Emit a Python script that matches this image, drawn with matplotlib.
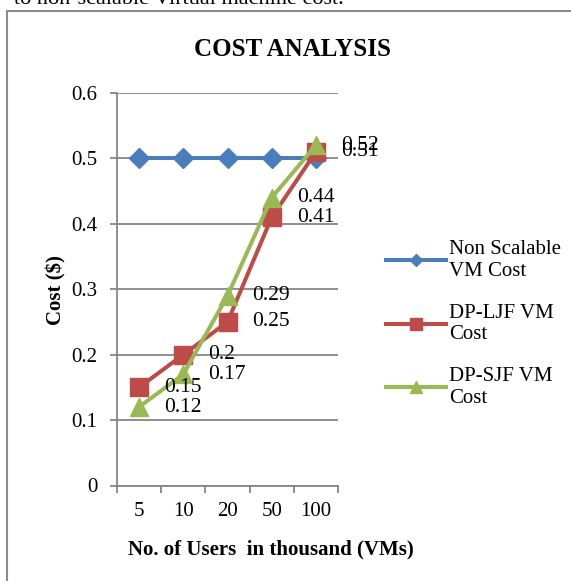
import matplotlib
matplotlib.use('Agg')
import matplotlib.pyplot as plt
from matplotlib.patches import Rectangle

plt.rcParams['font.family'] = ['Liberation Serif', 'DejaVu Serif']

users = ['5', '10', '20', '50', '100']
non_scalable = [0.5, 0.5, 0.5, 0.5, 0.5]
dp_ljf = [0.15, 0.2, 0.25, 0.41, 0.51]
dp_sjf = [0.12, 0.17, 0.29, 0.44, 0.52]

W, H = 571, 581
fig = plt.figure(figsize=(W / 100, H / 100), dpi=100)
ax = fig.add_axes([117 / W, 1 - 485.5 / H, 221 / W, 392.5 / H])

gray = '#868686'
x = list(range(len(users)))

ax.plot(x, non_scalable, color='#4A7EBB', lw=2.9, marker='D', ms=10,
        label='Non Scalable\nVM Cost', zorder=3)
ax.plot(x, dp_ljf, color='#BE4B48', lw=2.9, marker='s', ms=13.5,
        label='DP-LJF VM\nCost', zorder=4)
ax.plot(x, dp_sjf, color='#98B954', lw=2.9, marker='^', ms=13.5,
        label='DP-SJF VM\nCost', zorder=5)

# data labels to the right of each point
for series in (dp_ljf, dp_sjf):
    for i, v in enumerate(series):
        ax.annotate(f'{v:g}', (i, v), xytext=(25, 0), textcoords='offset pixels',
                    ha='left', va='center', fontsize=15.5, zorder=6,
                    annotation_clip=False)

ax.set_xlim(-0.5, len(users) - 0.5)
ax.set_ylim(0, 0.6)
ax.set_yticks([0, 0.1, 0.2, 0.3, 0.4, 0.5, 0.6])
ax.set_yticklabels(['0', '0.1', '0.2', '0.3', '0.4', '0.5', '0.6'])
ax.set_xticks([i - 0.5 for i in range(len(users) + 1)])
ax.set_xticklabels([])
ax.set_xticks(x, minor=True)
ax.set_xticklabels(users, minor=True)
ax.tick_params(axis='x', which='major', direction='out', length=5, width=1.3, color=gray)
ax.tick_params(axis='x', which='minor', length=0, pad=12, labelsize=15)
ax.tick_params(axis='y', direction='out', length=5, width=1.3, color=gray, pad=9, labelsize=15)
ax.grid(axis='y', color=gray, lw=1.3)
ax.set_axisbelow(True)
for s in ('top', 'right'):
    ax.spines[s].set_visible(False)
for s in ('left', 'bottom'):
    ax.spines[s].set_color(gray)
    ax.spines[s].set_linewidth(1.3)

fig.legend(loc='center left', bbox_to_anchor=(386 / W, 1 - 324 / H),
           frameon=False, fontsize=15, handlelength=2.9, handletextpad=0.12,
           labelspacing=1.1, borderpad=0, borderaxespad=0, markerscale=0.6)

fig.text(293 / W, 1 - 50 / H, 'COST ANALYSIS', ha='center', va='center',
         fontsize=18, fontweight='bold')
fig.text(271 / W, 1 - 549 / H, 'No. of Users  in thousand (VMs)', ha='center',
         va='center', fontsize=15, fontweight='bold')
fig.text(56 / W, 1 - 290 / H, 'Cost ($)', rotation=90, ha='center', va='center',
         fontsize=15, fontweight='bold')
fig.text(14 / W, 1 - 4 / H, 'to non-scalable Virtual machine cost.', ha='left',
         va='baseline', fontsize=16)

fig.add_artist(Rectangle((7 / W, -0.5), 1.5, (1 - 11 / H) + 0.5,
                         transform=fig.transFigure, fill=False, ec='#8C8C8C', lw=1.5))

fig.savefig('out.png', dpi=100)
